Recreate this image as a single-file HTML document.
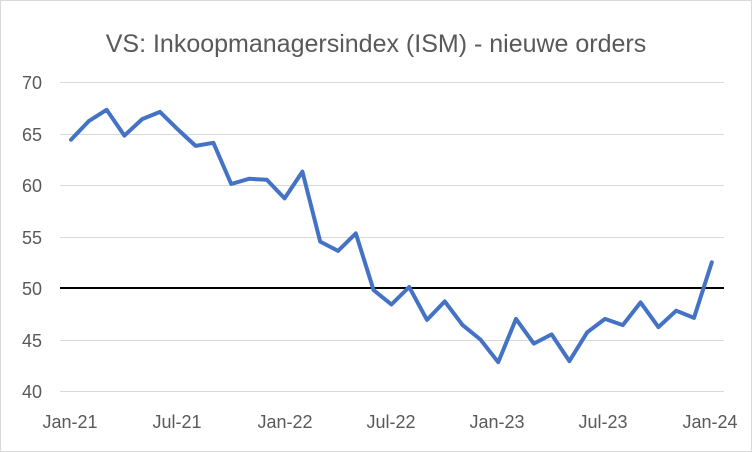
<!DOCTYPE html>
<html><head><meta charset="utf-8"><style>
html,body{margin:0;padding:0;background:#fff}
svg{display:block}
text{font-family:"Liberation Sans",sans-serif;fill:#595959}
</style></head><body>
<svg id="c" width="752" height="452" viewBox="0 0 752 452">
<rect x="0.5" y="0.5" width="751" height="451" fill="#fff" stroke="#d9d9d9"/>
<text x="376" y="52" font-size="25" text-anchor="middle">VS: Inkoopmanagersindex (ISM) - nieuwe orders</text>
<g stroke="#d9d9d9" stroke-width="1">
<line x1="60" x2="724" y1="82.5" y2="82.5"/>
<line x1="60" x2="724" y1="134.5" y2="134.5"/>
<line x1="60" x2="724" y1="185.5" y2="185.5"/>
<line x1="60" x2="724" y1="237.5" y2="237.5"/>
<line x1="60" x2="724" y1="340.5" y2="340.5"/>
<line x1="60" x2="724" y1="391.5" y2="391.5"/>
</g>
<g font-size="18" text-anchor="end">
<text x="42" y="89">70</text><text x="42" y="141">65</text><text x="42" y="192">60</text>
<text x="42" y="244">55</text><text x="42" y="295">50</text><text x="42" y="347">45</text>
<text x="42" y="398">40</text>
</g>
<g font-size="18" text-anchor="middle">
<text x="70" y="428">Jan-21</text><text x="177" y="428">Jul-21</text><text x="285" y="428">Jan-22</text>
<text x="391" y="428">Jul-22</text><text x="497" y="428">Jan-23</text><text x="603" y="428">Jul-23</text>
<text x="710" y="428">Jan-24</text>
</g>
<line x1="60" x2="724" y1="288" y2="288" stroke="#000" stroke-width="2"/>
<polyline id="p" fill="none" stroke="#4472c4" stroke-width="4" stroke-linejoin="round" stroke-linecap="round"/>
</svg>
<script>
var d=[64.4,66.2,67.3,64.8,66.4,67.1,65.4,63.8,64.1,60.1,60.6,60.5,58.7,61.3,54.5,53.6,55.3,49.8,48.4,50.1,46.9,48.7,46.4,45.0,42.8,47.0,44.6,45.5,42.9,45.7,47.0,46.4,48.6,46.2,47.8,47.1,52.5];
var pts=d.map(function(v,i){return (71+i*17.8).toFixed(1)+","+(391-(v-40)*10.3).toFixed(1)}).join(" ");
document.getElementById("p").setAttribute("points",pts);
</script>
</body></html>
